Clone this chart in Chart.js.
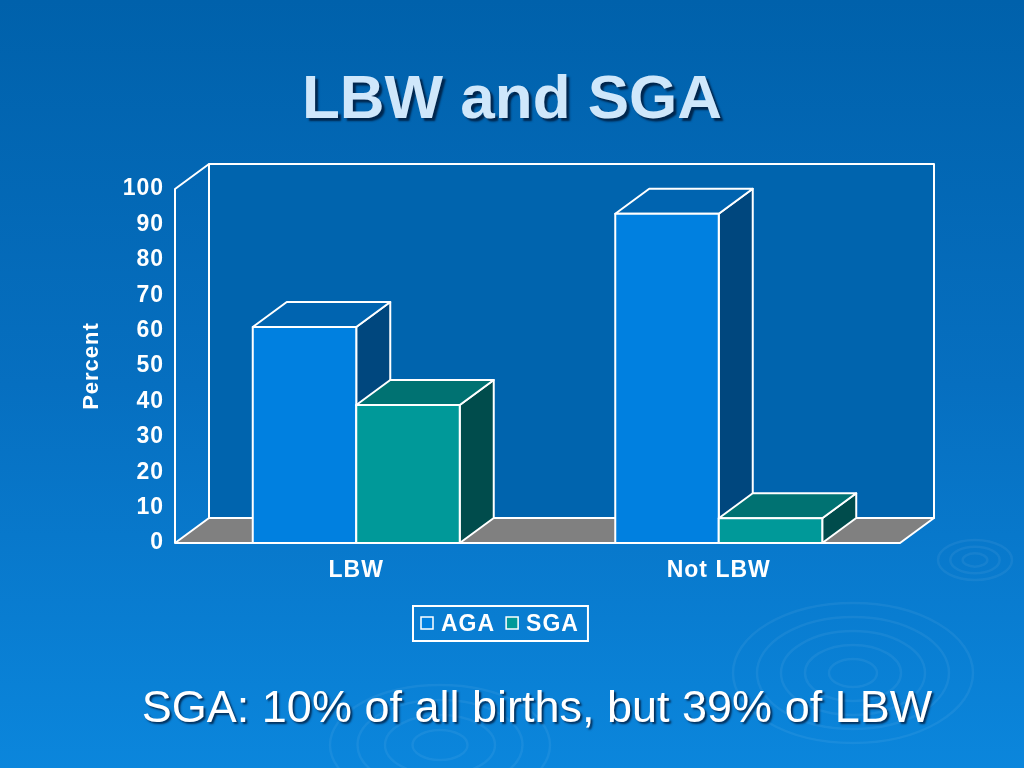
<!DOCTYPE html>
<html lang="en">
<head>
<meta charset="UTF-8">
<title>LBW and SGA</title>
<script src="https://cdn.jsdelivr.net/npm/chart.js"></script>
<style>
  html, body { margin: 0; padding: 0; }
  body {
    width: 1024px; height: 768px; overflow: hidden; position: relative;
    background: linear-gradient(to bottom, #0061ab 0%, #066fc0 50%, #0b86dc 100%);
    font-family: "Liberation Sans", Arial, sans-serif;
  }
  #wrap { position: absolute; left: 0; top: 0; width: 1024px; height: 768px; }
  #title {
    position: absolute; left: 0; top: 66px; width: 1024px; text-align: center;
    font-size: 62px; line-height: 62px; font-weight: bold; color: #cfe7fb;
    text-shadow: 3px 3px 2px #00264d;
  }
  #caption {
    position: absolute; left: 50px; top: 684px; width: 974px; text-align: center;
    font-size: 45px; line-height: 45px; color: #ffffff;
    text-shadow: 2px 2px 2px rgba(0, 20, 50, 0.75);
  }
</style>
</head>
<body>
<div id="wrap"><canvas id="chart"></canvas></div>
<div id="title">LBW and SGA</div>
<div id="caption">SGA: 10% of all births, but 39% of LBW</div>

<script>
  // data
  const categories = ['LBW', 'Not LBW'];
  const seriesNames = ['AGA', 'SGA'];
  const agaValues = [61, 93];
  const sgaValues = [39, 7];
  const yMin = 0, yMax = 100, yStep = 10;

  // 3D look
  const DX = 34, DY = -25;
  const FONT = '"Liberation Sans", Arial, sans-serif';

  function poly(ctx, pts, fill) {
    ctx.beginPath();
    ctx.moveTo(pts[0][0], pts[0][1]);
    for (let i = 1; i < pts.length; i++) ctx.lineTo(pts[i][0], pts[i][1]);
    ctx.closePath();
    if (fill) { ctx.fillStyle = fill; ctx.fill(); }
    ctx.stroke();
  }

  // background ripples, letter spacing
  const backdrop = {
    id: 'backdrop',
    beforeDraw(chart) {
      const ctx = chart.ctx;
      ctx.save();
      ctx.strokeStyle = 'rgba(255,255,255,0.06)';
      ctx.lineWidth = 2.5;
      [[975, 560, 37, 20, 3], [853, 673, 120, 70, 5], [440, 745, 110, 60, 4]].forEach(r => {
        for (let k = 1; k <= r[4]; k++) {
          ctx.beginPath();
          ctx.ellipse(r[0], r[1], r[2] * k / r[4], r[3] * k / r[4], 0, 0, Math.PI * 2);
          ctx.stroke();
        }
      });
      ctx.restore();
      ctx.letterSpacing = '1px';
    }
  };

  // back wall, left wall and floor, then the bar faces
  const walls = {
    id: 'walls',
    beforeDatasetsDraw(chart) {
      const ctx = chart.ctx, ca = chart.chartArea, y = chart.scales.y;
      const L = ca.left, R = ca.right, T = y.getPixelForValue(yMax), B = y.getPixelForValue(yMin);
      ctx.save();
      ctx.strokeStyle = '#ffffff';
      ctx.lineWidth = 2;
      ctx.lineJoin = 'round';
      ctx.fillStyle = '#0064ae';
      ctx.fillRect(L + DX, T + DY, R - L, B - T);
      ctx.strokeRect(L + DX, T + DY, R - L, B - T);
      ctx.beginPath();
      ctx.moveTo(L, B); ctx.lineTo(L, T); ctx.lineTo(L + DX, T + DY);
      ctx.stroke();
      poly(ctx, [[L, B], [L + DX, B + DY], [R + DX, B + DY], [R, B]], '#808080');
      ctx.restore();
    },
    afterDatasetsDraw(chart) {
      const ctx = chart.ctx;
      const bars = [];
      chart.data.datasets.forEach((ds, di) => {
        chart.getDatasetMeta(di).data.forEach(el => bars.push({ el, ds }));
      });
      bars.sort((a, b) => a.el.x - b.el.x);
      ctx.save();
      ctx.strokeStyle = '#ffffff';
      ctx.lineWidth = 2;
      ctx.lineJoin = 'round';
      bars.forEach(({ el, ds }) => {
        const l = el.x - el.width / 2, r = el.x + el.width / 2, t = el.y, b = el.base;
        poly(ctx, [[r, t], [r + DX, t + DY], [r + DX, b + DY], [r, b]], ds.sideColor);
        poly(ctx, [[l, t], [l + DX, t + DY], [r + DX, t + DY], [r, t]], ds.topColor);
        poly(ctx, [[l, t], [r, t], [r, b], [l, b]], ds.backgroundColor);
      });
      ctx.restore();
    },
    afterDraw(chart) {
      // boxed legend under the axis
      const ctx = chart.ctx;
      const boxL = 413, boxT = 606, boxH = 35;
      ctx.save();
      ctx.font = 'bold 23px ' + FONT;
      ctx.letterSpacing = '1px';
      ctx.textBaseline = 'middle';
      let x = boxL + 8;
      const items = chart.data.datasets.map(ds => {
        const w = ctx.measureText(ds.label).width;
        const it = { ds, x, w };
        x += 12 + 8 + w + 11;
        return it;
      });
      const boxW = x - 11 + 9 - boxL;
      ctx.strokeStyle = '#ffffff';
      ctx.lineWidth = 2;
      ctx.strokeRect(boxL, boxT, boxW, boxH);
      items.forEach(it => {
        ctx.fillStyle = it.ds.backgroundColor;
        ctx.lineWidth = 1.5;
        ctx.fillRect(it.x, boxT + 11, 12, 12);
        ctx.strokeRect(it.x, boxT + 11, 12, 12);
        ctx.fillStyle = '#ffffff';
        ctx.fillText(it.ds.label, it.x + 20, boxT + boxH / 2 + 1);
      });
      ctx.restore();
    }
  };

  new Chart(document.getElementById('chart'), {
    type: 'bar',
    data: {
      labels: categories,
      datasets: [
        {
          label: seriesNames[0],
          data: agaValues,
          backgroundColor: '#0080e0',
          topColor: '#0064b0',
          sideColor: '#00477e',
          borderColor: '#ffffff',
          borderWidth: 2
        },
        {
          label: seriesNames[1],
          data: sgaValues,
          backgroundColor: '#009999',
          topColor: '#007272',
          sideColor: '#004c4c',
          borderColor: '#ffffff',
          borderWidth: 2
        }
      ]
    },
    options: {
      responsive: true,
      maintainAspectRatio: false,
      animation: false,
      events: [],
      datasets: { bar: { categoryPercentage: 0.571, barPercentage: 1.0 } },
      layout: { padding: { left: 0, top: 189, right: 124, bottom: 185 } },
      plugins: { legend: { display: false }, tooltip: { enabled: false }, title: { display: false } },
      scales: {
        x: {
          grid: { display: false, drawTicks: false },
          border: { display: false },
          ticks: { color: '#ffffff', font: { family: FONT, size: 23, weight: 'bold' }, padding: 14 },
          afterFit(scale) { scale.height = 40; }
        },
        y: {
          min: yMin,
          max: yMax,
          grid: { display: false, drawTicks: false },
          border: { display: false },
          ticks: { stepSize: yStep, color: '#ffffff', font: { family: FONT, size: 23, weight: 'bold' }, padding: 11 },
          title: {
            display: true, text: 'Percent', color: '#ffffff',
            font: { family: FONT, size: 22, weight: 'bold' },
            padding: { top: 79, bottom: 0 }
          },
          afterFit(scale) { scale.width = 175; }
        }
      }
    },
    plugins: [backdrop, walls]
  });
</script>
</body>
</html>
